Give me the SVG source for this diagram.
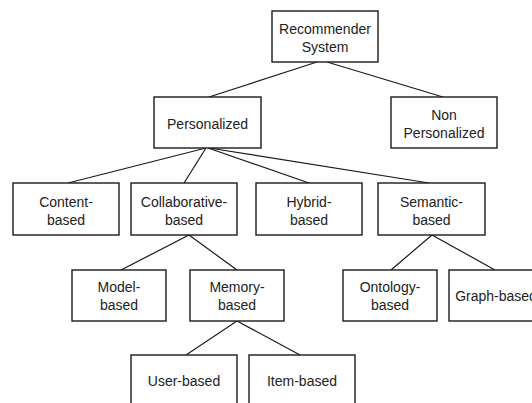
<svg xmlns="http://www.w3.org/2000/svg" width="532" height="403" viewBox="0 0 532 403">
  <style>
    .box { fill: #ffffff; stroke: #1a1a1a; stroke-width: 1.4; }
    .label { font-family: "Liberation Sans", Arial, sans-serif; font-size: 14px; fill: #222222; text-anchor: middle; }
    .edge { stroke: #1a1a1a; stroke-width: 1.2; fill: none; }
  </style>
  <rect width="532" height="403" fill="#ffffff"/>

  <!-- tree connectors -->
  <g id="connectors">
    <line class="edge" x1="317" y1="62" x2="209" y2="97"/>
    <line class="edge" x1="327" y1="62" x2="443" y2="97"/>
    <line class="edge" x1="206" y1="148" x2="68" y2="183"/>
    <line class="edge" x1="206" y1="148" x2="184" y2="183"/>
    <line class="edge" x1="208" y1="148" x2="309" y2="183"/>
    <line class="edge" x1="209" y1="148" x2="429" y2="183"/>
    <line class="edge" x1="189" y1="235" x2="121" y2="270"/>
    <line class="edge" x1="189" y1="235" x2="237" y2="270"/>
    <line class="edge" x1="432" y1="235" x2="391" y2="270"/>
    <line class="edge" x1="432" y1="235" x2="495" y2="270"/>
    <line class="edge" x1="237" y1="321" x2="186" y2="355"/>
    <line class="edge" x1="237" y1="321" x2="300" y2="355"/>
  </g>

  <!-- level 0 -->
  <g id="recommender-system">
    <rect class="box" x="272" y="11" width="106" height="51"/>
    <text class="label" x="325" y="33.5">Recommender</text>
    <text class="label" x="325" y="51.5">System</text>
  </g>

  <!-- level 1 -->
  <g id="personalized">
    <rect class="box" x="154" y="97" width="107" height="51"/>
    <text class="label" x="207.5" y="129">Personalized</text>
  </g>
  <g id="non-personalized">
    <rect class="box" x="391" y="97" width="106" height="51"/>
    <text class="label" x="444" y="119.5">Non</text>
    <text class="label" x="444" y="137.5">Personalized</text>
  </g>

  <!-- level 2 -->
  <g id="content-based">
    <rect class="box" x="13" y="183" width="106" height="52"/>
    <text class="label" x="66" y="207">Content-</text>
    <text class="label" x="66" y="225">based</text>
  </g>
  <g id="collaborative-based">
    <rect class="box" x="131" y="183" width="106" height="52"/>
    <text class="label" x="184" y="207">Collaborative-</text>
    <text class="label" x="184" y="225">based</text>
  </g>
  <g id="hybrid-based">
    <rect class="box" x="256" y="183" width="106" height="52"/>
    <text class="label" x="309" y="207">Hybrid-</text>
    <text class="label" x="309" y="225">based</text>
  </g>
  <g id="semantic-based">
    <rect class="box" x="378" y="183" width="107" height="52"/>
    <text class="label" x="431.5" y="207">Semantic-</text>
    <text class="label" x="431.5" y="225">based</text>
  </g>

  <!-- level 3 -->
  <g id="model-based">
    <rect class="box" x="72" y="270" width="94" height="51"/>
    <text class="label" x="119" y="292">Model-</text>
    <text class="label" x="119" y="309.5">based</text>
  </g>
  <g id="memory-based">
    <rect class="box" x="190" y="270" width="94" height="51"/>
    <text class="label" x="237" y="292">Memory-</text>
    <text class="label" x="237" y="309.5">based</text>
  </g>
  <g id="ontology-based">
    <rect class="box" x="343" y="270" width="94" height="51"/>
    <text class="label" x="390" y="292">Ontology-</text>
    <text class="label" x="390" y="309.5">based</text>
  </g>
  <g id="graph-based">
    <rect class="box" x="449" y="270" width="94" height="51"/>
    <text class="label" x="496" y="300.5">Graph-based</text>
  </g>

  <!-- level 4 -->
  <g id="user-based">
    <rect class="box" x="131" y="355" width="106" height="52"/>
    <text class="label" x="184" y="386">User-based</text>
  </g>
  <g id="item-based">
    <rect class="box" x="249" y="355" width="106" height="52"/>
    <text class="label" x="302" y="386">Item-based</text>
  </g>
</svg>
